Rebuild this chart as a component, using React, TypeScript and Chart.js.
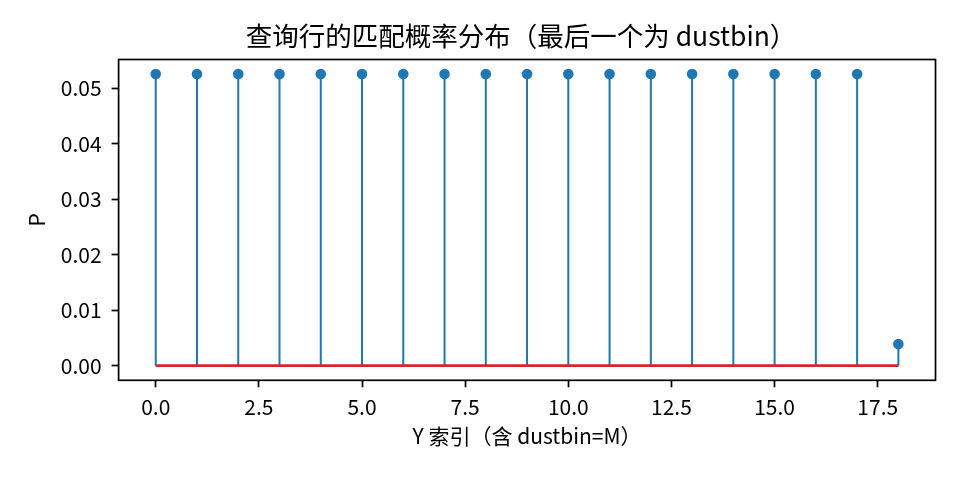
import { useEffect, useRef } from "react";
import { Chart, registerables } from "chart.js";

Chart.register(...registerables);

const indices = [0, 1, 2, 3, 4, 5, 6, 7, 8, 9, 10, 11, 12, 13, 14, 15, 16, 17, 18];
const probabilities = [
  0.0526, 0.0526, 0.0526, 0.0526, 0.0526, 0.0526, 0.0526, 0.0526, 0.0526, 0.0526,
  0.0526, 0.0526, 0.0526, 0.0526, 0.0526, 0.0526, 0.0526, 0.0526, 0.0039,
];
const xTicks = [0, 2.5, 5, 7.5, 10, 12.5, 15, 17.5];
const yTicks = [0, 0.01, 0.02, 0.03, 0.04, 0.05];
const titleText = "查询行的匹配概率分布（最后一个为 dustbin）";
const xLabel = "Y 索引（含 dustbin=M）";
const yLabel = "P";

const FONT = "'Noto Sans CJK SC', 'Noto Sans', sans-serif";
const BLUE = "#1f77b4";
const RED = "#d62728";

const framePlugin = {
  id: "frame",
  afterDraw(chart: any) {
    const { ctx, chartArea } = chart;
    ctx.save();
    ctx.strokeStyle = "#000";
    ctx.lineWidth = 1.7;
    ctx.strokeRect(chartArea.left, chartArea.top, chartArea.right - chartArea.left, chartArea.bottom - chartArea.top);
    // title centred over the axes
    ctx.fillStyle = "#000";
    ctx.font = `26.5px ${FONT}`;
    ctx.textAlign = "center";
    ctx.textBaseline = "middle";
    ctx.fillText(titleText, (chartArea.left + chartArea.right) / 2 - 6, 36);
    ctx.restore();
  },
};

export default function App() {
  const ref = useRef<HTMLCanvasElement | null>(null);
  useEffect(() => {
    if (!ref.current) return;
    const stemData: any[] = [];
    indices.forEach((x, i) => {
      stemData.push({ x, y: 0 });
      stemData.push({ x, y: probabilities[i] });
      stemData.push({ x, y: null });
    });
    const markerData = indices.map((x, i) => ({ x, y: probabilities[i] }));
    const baseData = [
      { x: indices[0], y: 0 },
      { x: indices[indices.length - 1], y: 0 },
    ];
    const xMin = -0.9;
    const xMax = 18.9;
    const yMax = Math.max(...probabilities);
    const chart = new Chart(ref.current, {
      type: "scatter",
      data: {
        datasets: [
          {
            data: markerData,
            pointRadius: 5.3,
            pointBackgroundColor: BLUE,
            pointBorderWidth: 0,
            showLine: false,
          } as any,
          {
            data: baseData,
            showLine: true,
            borderColor: RED,
            borderWidth: 2.7,
            pointRadius: 0,
          } as any,
          {
            data: stemData,
            showLine: true,
            spanGaps: false,
            borderColor: BLUE,
            borderWidth: 2,
            pointRadius: 0,
          } as any,
        ],
      },
      options: {
        responsive: false,
        animation: false,
        layout: { padding: { left: 0, right: 24.5, top: 59.5, bottom: 0 } },
        plugins: {
          legend: { display: false },
          tooltip: { enabled: false },
          title: { display: false },
        },
        scales: {
          x: {
            type: "linear",
            min: xMin,
            max: xMax,
            afterBuildTicks: (scale: any) => {
              scale.ticks = xTicks.map((v) => ({ value: v }));
            },
            afterFit: (scale: any) => {
              scale.height = 99.7;
            },
            grid: { drawOnChartArea: false, drawTicks: true, tickLength: 7, tickColor: "#000", tickWidth: 1.7 },
            border: { display: false },
            ticks: {
              color: "#000",
              padding: 7,
              maxRotation: 0,
              font: { family: FONT, size: 21 },
              callback: (v: any) => Number(v).toFixed(1),
            },
            title: {
              display: true,
              text: xLabel,
              color: "#000",
              font: { family: FONT, size: 21 },
              padding: { top: 0, bottom: 31 },
            },
          },
          y: {
            type: "linear",
            min: -0.05 * yMax,
            max: yMax * 1.05,
            afterBuildTicks: (scale: any) => {
              scale.ticks = yTicks.map((v) => ({ value: v }));
            },
            afterFit: (scale: any) => {
              scale.width = 118.6;
            },
            grid: { drawOnChartArea: false, drawTicks: true, tickLength: 7, tickColor: "#000", tickWidth: 1.7 },
            border: { display: false },
            ticks: {
              color: "#000",
              padding: 10,
              font: { family: FONT, size: 21 },
              callback: (v: any) => Number(v).toFixed(2),
            },
            title: {
              display: true,
              text: yLabel,
              color: "#000",
              font: { family: FONT, size: 21 },
              padding: { top: 24.9, bottom: 0 },
            },
          },
        },
      } as any,
      plugins: [framePlugin],
    });
    return () => chart.destroy();
  }, []);
  return (
    <div style={{ position: "absolute", left: 0, top: 0, width: 960, height: 480, background: "#fff" }}>
      <canvas ref={ref} width={960} height={480} />
    </div>
  );
}
